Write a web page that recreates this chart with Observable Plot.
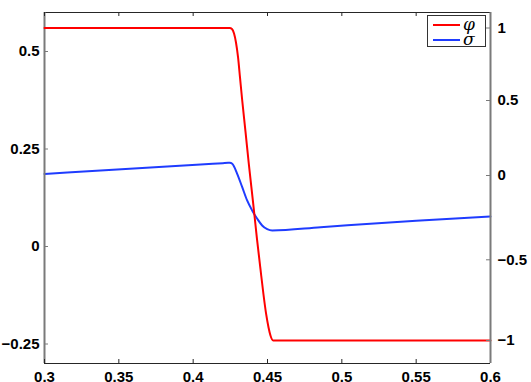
<!DOCTYPE html>
<html><head><meta charset="utf-8">
<script src="https://cdn.jsdelivr.net/npm/d3@7"></script>
<script src="https://cdn.jsdelivr.net/npm/@observablehq/plot@0.6"></script>
<style>
html,body{margin:0;padding:0;background:#fff;}
#wrap{position:relative;width:531px;height:382px;overflow:hidden;}
#wrap svg{position:absolute;left:0;top:0;}
#legend{position:absolute;left:427px;top:15px;width:59px;height:32px;border:1px solid #333;background:#fff;box-sizing:border-box;}
.lg-line{position:absolute;left:5px;width:27px;height:2px;}
.lg-sym{position:absolute;left:35px;font-family:"DejaVu Serif",serif;font-style:italic;font-size:17px;line-height:15px;color:#000;}
</style></head><body>
<div id="wrap"></div>
<script>
const xTicks=[0.3,0.35,0.4,0.45,0.5,0.55,0.6];
const xTickLabels=["0.3","0.35","0.4","0.45","0.5","0.55","0.6"];
const leftTicks=[-0.25,0,0.25,0.5];
const leftTickLabels=["−0.25","0","0.25","0.5"];
const rightTicks=[-1,-0.5,0,0.5,1];
const rightTickLabels=["−1","−0.5","0","0.5","1"];

const seriesNames=["φ","σ"];
const seriesColors=["#ff0000","#1f3cff"];

// φ (right axis)
const phiX=[0.3,0.4246,0.4261,0.4275,0.4288,0.4302,0.4315,0.433,0.4352,0.4374,0.4404,0.4429,0.4453,0.4473,0.4491,0.4507,0.452,0.4538,0.6];
const phiY=[1,1,0.993,0.962,0.9,0.797,0.659,0.5,0.293,0.08,-0.168,-0.374,-0.56,-0.715,-0.837,-0.919,-0.969,-1,-1];
// σ (left axis)
const sigmaX=[0.3,0.405,0.42,0.4235,0.4246,0.4263,0.4296,0.433,0.4363,0.4397,0.4431,0.4464,0.4498,0.4532,0.4857,0.55,0.6];
const sigmaY=[0.186,0.2103,0.2137,0.2145,0.2146,0.212,0.1864,0.152,0.118,0.0923,0.071,0.0538,0.0444,0.041,0.0495,0.066,0.077];

// the reference's right axis is drawn with unevenly spaced ticks:
// where each right tick value sits along the right axis
const rightTickAt=[-1,-0.4835,0.056,0.536,1];
const warp=d3.scaleLinear().domain(rightTicks).range(rightTickAt);

const phi=phiX.map((x,i)=>({x,y:phiY[i]}));
const sigma=sigmaX.map((x,i)=>({x,y:sigmaY[i]}));

const W=531,H=382,ML=44,MR=41,MT=12,MB=19;
const fw=W-ML-MR, fh=H-MT-MB;
const common={width:W,height:H,marginLeft:ML,marginRight:MR,marginTop:MT,marginBottom:MB,
  style:{fontFamily:"'Liberation Sans',Arial,sans-serif",fontSize:"15px",fontWeight:"bold",background:"transparent",overflow:"visible",color:"#000"}};
const lab=(ticks,labels)=>d=>labels[ticks.indexOf(d)];

const main=Plot.plot({...common,
  x:{domain:[0.3,0.6]},
  y:{domain:[-0.3,0.6]},
  marks:[
    Plot.line(sigma,{x:"x",y:"y",stroke:seriesColors[1],strokeWidth:2,curve:"monotone-x"}),
    Plot.ruleY([0.6],{stroke:"#262626",strokeWidth:1}),
    Plot.ruleY([-0.3],{stroke:"#262626",strokeWidth:1}),
    Plot.ruleX([0.3],{stroke:"#7a7a7a",strokeWidth:2}),
    Plot.tickX(xTicks,{x:d=>d,stroke:"#262626",insetTop:fh-4}),
    Plot.tickX(xTicks,{x:d=>d,stroke:"#262626",insetBottom:fh-4}),
    Plot.tickY(leftTicks,{y:d=>d,stroke:"#7a7a7a",insetRight:fw-4}),
    Plot.axisX(xTicks,{anchor:"bottom",tickSize:0,tickPadding:8,tickFormat:lab(xTicks,xTickLabels),label:null,fill:"#000"}),
    Plot.axisY(leftTicks,{anchor:"left",tickSize:0,tickPadding:5,tickFormat:lab(leftTicks,leftTickLabels),label:null,fill:"#000"})
  ]});

const right=Plot.plot({...common,
  x:{domain:[0.3,0.6],axis:null},
  y:{domain:[-1.1472,1.0992],axis:null},
  marks:[
    Plot.line(phi,{x:"x",y:d=>warp(d.y),stroke:seriesColors[0],strokeWidth:2,curve:"monotone-x"}),
    Plot.ruleX([0.6],{stroke:"#7a7a7a",strokeWidth:2}),
    Plot.tickY(rightTicks,{y:d=>warp(d),stroke:"#7a7a7a",insetLeft:fw-4}),
    Plot.text(rightTicks,{y:d=>warp(d),text:(d,i)=>rightTickLabels[i],frameAnchor:"right",dx:7,textAnchor:"start",fill:"#000"})
  ]});

const wrap=document.getElementById("wrap");
wrap.appendChild(main);
wrap.appendChild(right);

const lg=document.createElement("div");
lg.id="legend";
seriesNames.forEach((n,i)=>{
  const l=document.createElement("div");
  l.className="lg-line";
  l.style.top=(i===0?8:23)+"px";
  l.style.background=seriesColors[i];
  lg.appendChild(l);
  const s=document.createElement("div");
  s.className="lg-sym";
  s.style.top=(i===0?1:16)+"px";
  s.textContent=n;
  lg.appendChild(s);
});
wrap.appendChild(lg);
</script>
</body></html>
